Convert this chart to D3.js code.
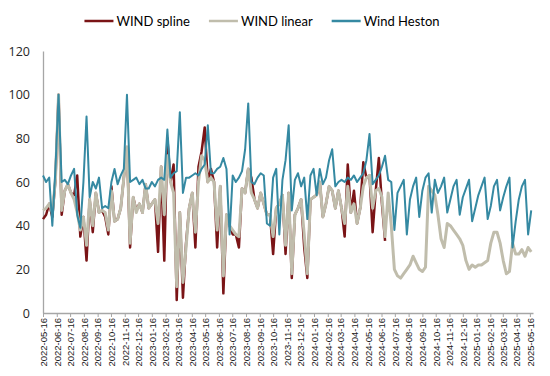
<!DOCTYPE html>
<html>
<head>
<meta charset="utf-8">
<script src="https://cdn.jsdelivr.net/npm/d3@7"></script>
<style>
  body { margin: 0; background: #fff; }
  svg { display: block; }
</style>
</head>
<body>
<div id="chart"></div>
<script>
// DATA
// ================================================================================== //

// weekly readings, first one on 2022-05-16
const startDate = new Date(2022, 4, 16)

const windHeston = [
    63, 60, 62, 40, 66, 100, 60, 61, 59, 63,
    66, 45, 39, 60, 90, 53, 60, 57, 62, 48,
    49, 48, 60, 66, 59, 63, 66, 100, 60, 61,
    62, 59, 61, 57, 57, 60, 58, 61, 62, 61,
    84, 62, 64, 65, 92, 55, 62, 62, 63, 64,
    63, 66, 68, 86, 64, 64, 66, 67, 71, 66,
    36, 63, 60, 62, 65, 75, 96, 60, 59, 62,
    64, 63, 41, 40, 62, 66, 36, 61, 70, 86,
    47, 61, 64, 58, 62, 43, 63, 66, 54, 66,
    59, 62, 70, 75, 58, 60, 61, 60, 62, 61,
    63, 60, 62, 64, 70, 82, 59, 61, 63, 67,
    72, 61, 60, 38, 55, 58, 61, 36, 52, 58,
    62, 44, 56, 62, 64, 46, 61, 55, 58, 62,
    46, 52, 58, 61, 45, 53, 57, 61, 42, 48,
    54, 58, 62, 43, 49, 58, 61, 47, 53, 58,
    62, 30, 42, 52, 58, 61, 36, 47
]

const windLinear = [
    47, 48, 50, 46, 61, 100, 47, 56, 59, 55,
    52, 46, 38, 44, 31, 52, 40, 55, 46, 47,
    46, 38, 56, 42, 43, 48, 62, 76, 32, 53,
    46, 50, 46, 59, 48, 50, 52, 41, 67, 45,
    72, 60, 55, 12, 46, 14, 30, 48, 55, 37,
    60, 72, 70, 60, 62, 60, 38, 58, 17, 45,
    40, 38, 36, 35, 57, 55, 66, 55, 52, 48,
    55, 50, 45, 45, 35, 48, 50, 54, 31, 55,
    18, 45, 48, 52, 36, 18, 52, 53, 54, 60,
    44, 50, 58, 56, 48, 56, 48, 41, 58, 46,
    50, 41, 48, 58, 62, 63, 48, 56, 57, 53,
    35, 55, 40, 20, 17, 16, 18, 20, 22, 26,
    23, 20, 19, 21, 58, 56, 54, 45, 34, 30,
    41, 40, 38, 36, 34, 31, 24, 20, 22, 21,
    22, 22, 23, 24, 32, 37, 37, 32, 24, 18,
    19, 32, 27, 27, 29, 26, 30, 28
]

// spline series stops in June 2024
const windSpline = [
    43, 45, 50, 44, 61, 100, 45, 56, 59, 55,
    54, 63, 35, 44, 24, 52, 37, 55, 46, 47,
    44, 36, 58, 42, 43, 48, 62, 76, 30, 53,
    47, 50, 46, 59, 48, 50, 52, 28, 67, 24,
    80, 60, 68, 6, 46, 7, 32, 48, 55, 30,
    67, 74, 85, 60, 66, 60, 30, 58, 9, 45,
    40, 36, 36, 30, 57, 55, 66, 62, 52, 48,
    55, 50, 45, 45, 27, 48, 50, 54, 27, 55,
    16, 45, 48, 52, 30, 16, 52, 53, 54, 60,
    44, 50, 58, 56, 48, 56, 48, 35, 68, 46,
    56, 41, 48, 69, 62, 63, 37, 56, 71, 50,
    33
]

const xTickLabels = [
    "2022-05-16", "2022-06-16", "2022-07-16", "2022-08-16", "2022-09-16", "2022-10-16",
    "2022-11-16", "2022-12-16", "2023-01-16", "2023-02-16", "2023-03-16", "2023-04-16",
    "2023-05-16", "2023-06-16", "2023-07-16", "2023-08-16", "2023-09-16", "2023-10-16",
    "2023-11-16", "2023-12-16", "2024-01-16", "2024-02-16", "2024-03-16", "2024-04-16",
    "2024-05-16", "2024-06-16", "2024-07-16", "2024-08-16", "2024-09-16", "2024-10-16",
    "2024-11-16", "2024-12-16", "2025-01-16", "2025-02-16", "2025-03-16", "2025-04-16",
    "2025-05-16"
]
const yTicks = [0, 20, 40, 60, 80, 100, 120]

const seriesNames = ["WIND spline", "WIND linear", "Wind Heston"]
const seriesColors = ["#7a1416", "#c0bdac", "#3589a2"]
const seriesWidths = [2.5, 3, 2]

// ================================================================================== //
// DATA END


const width = 550
const height = 376
const margin = ({ top: 51, right: 17, bottom: 63, left: 43 })

const parseDate = d3.timeParse("%Y-%m-%d")
const toPoints = arr => arr.map((v, i) => ({ date: d3.timeDay.offset(startDate, 7 * i), value: v }))

const series = [windSpline, windLinear, windHeston].map((arr, i) => ({
    name: seriesNames[i],
    color: seriesColors[i],
    width: seriesWidths[i],
    points: toPoints(arr)
}))

const x = d3.scaleTime()
    .domain([startDate, new Date(2025, 4, 23)])
    .range([margin.left, width - margin.right])

const y = d3.scaleLinear()
    .domain([0, 120])
    .range([height - margin.bottom, margin.top])

const svg = d3.select("#chart")
    .append("svg")
    .attr("width", width)
    .attr("height", height)
    .attr("viewBox", [0, 0, width, height])
    .style("background", "#fff")

// y axis: plain line + labels, no tick marks
svg.append("g")
    .attr("transform", `translate(${margin.left},0)`)
    .call(d3.axisLeft(y).tickValues(yTicks).tickSize(0).tickSizeOuter(0).tickPadding(13))
    .call(g => g.select(".domain").attr("stroke", "#a6a6a6").attr("stroke-width", 1.3))
    .call(g => g.selectAll("text")
        .attr("fill", "#262626")
        .style("font-family", "'Open Sans', sans-serif")
        .style("font-size", "12.5px"))

// x axis with rotated month labels
svg.append("g")
    .attr("transform", `translate(0,${height - margin.bottom})`)
    .call(d3.axisBottom(x)
        .tickValues(xTickLabels.map(parseDate))
        .tickFormat(d3.timeFormat("%Y-%m-%d"))
        .tickSize(4)
        .tickSizeOuter(0))
    .call(g => g.select(".domain").attr("stroke", "#a6a6a6").attr("stroke-width", 1.3))
    .call(g => g.selectAll(".tick line").attr("stroke", "#a6a6a6"))
    .call(g => g.selectAll("text")
        .attr("transform", "rotate(-90)")
        .attr("x", -5)
        .attr("y", 0)
        .attr("dy", "0.35em")
        .attr("text-anchor", "end")
        .attr("fill", "#1a1a1a")
        .style("font-family", "'Liberation Sans', Arial, sans-serif")
        .style("font-size", "9.5px"))

const line = d3.line()
    .x(d => x(d.date))
    .y(d => y(d.value))

svg.append("g")
    .selectAll("path")
    .data(series)
    .join("path")
    .attr("fill", "none")
    .attr("stroke", d => d.color)
    .attr("stroke-width", d => d.width)
    .attr("stroke-linejoin", "round")
    .attr("d", d => line(d.points))

// legend, centred above the plot
const legend = svg.append("g")
    .attr("transform", "translate(0,21)")

const items = legend.selectAll("g")
    .data(series)
    .join("g")

items.append("line")
    .attr("x1", 0).attr("x2", 29)
    .attr("stroke", d => d.color)
    .attr("stroke-width", 2.5)

items.append("text")
    .attr("x", 32)
    .attr("dy", "0.35em")
    .attr("fill", "#000")
    .style("font-family", "Lato, sans-serif")
    .style("font-size", "13px")
    .text(d => d.name)

let offset = 0
const itemX = []
items.each(function () {
    itemX.push(offset)
    offset += 32 + d3.select(this).select("text").node().getComputedTextLength() + 19
})
const legendStart = 262 - (offset - 19) / 2
items.attr("transform", (d, i) => `translate(${legendStart + itemX[i]},0)`)
</script>
</body>
</html>
